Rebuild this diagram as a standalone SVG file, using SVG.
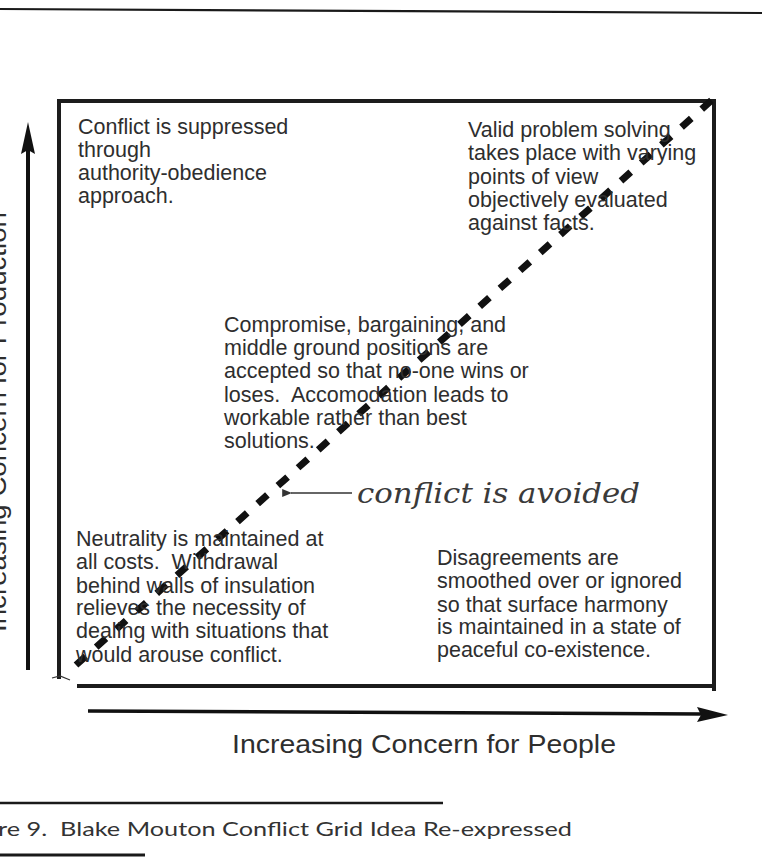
<svg xmlns="http://www.w3.org/2000/svg" width="762" height="857" viewBox="0 0 762 857">
  <style>
    .body { font-family: "Liberation Sans", Arial, sans-serif; font-size: 21.5px; fill: #2e2e2e; }
    .axis { font-family: "Liberation Sans", Arial, sans-serif; font-size: 25px; fill: #2e2e2e; }
    .note { font-family: "DejaVu Serif", serif; font-style: italic; font-size: 27px; fill: #3a3a3a; }
    .cap { font-family: Lato, "Open Sans", "Liberation Sans", sans-serif; font-size: 20px; fill: #333; }
    .frame { fill: none; stroke: #1c1c1c; stroke-width: 4; stroke-linecap: square; }
    .rule { fill: none; stroke: #1a1a1a; }
  </style>
  <defs>
    <marker id="smallHead" viewBox="0 0 10 10" refX="1" refY="5" markerWidth="7" markerHeight="7" orient="auto-start-reverse">
      <path d="M0,5 L10,1 L10,9 Z" fill="#333"/>
    </marker>
  </defs>
  <rect width="762" height="857" fill="#ffffff"/>

  <!-- page rules -->
  <line class="rule" x1="0" y1="9" x2="762" y2="13" stroke-width="2.2"/>
  <line class="rule" x1="0" y1="803" x2="443" y2="803" stroke-width="2.6"/>
  <line class="rule" x1="0" y1="855" x2="145" y2="855" stroke-width="3"/>

  <!-- frame -->
  <g id="frame">
    <path class="frame" d="M59,101 H714"/>
    <path class="frame" d="M714,101 V689"/>
    <path class="frame" d="M79,686 H714"/>
    <path class="frame" d="M59,101 V677"/>
    <path d="M52,678 L60,676 L70,680" fill="none" stroke="#333" stroke-width="1.2"/>
  </g>

  <!-- connectors -->
  <g id="connectors">
    <line x1="76" y1="665" x2="712" y2="100" stroke="#111" stroke-width="7" stroke-dasharray="13 14"/>
    <line x1="352" y1="493" x2="291" y2="493" stroke="#333" stroke-width="1.4" marker-end="url(#smallHead)"/>
    <!-- vertical axis -->
    <line x1="28" y1="670" x2="28" y2="150" stroke="#111" stroke-width="4"/>
    <polygon points="28,122 21,154 28,150 35,154" fill="#111"/>
    <!-- horizontal axis -->
    <line x1="88" y1="711" x2="703" y2="714" stroke="#111" stroke-width="3.5"/>
    <polygon points="697,707 728,715 697,722 701,715" fill="#111"/>
  </g>

  <!-- axis labels -->
  <g id="y-axis-label">
    <text class="axis" transform="translate(6,632) rotate(-90)" x="0" y="0" textLength="420" lengthAdjust="spacingAndGlyphs">Increasing Concern for Production</text>
  </g>
  <g id="x-axis-label">
    <text class="axis" x="232" y="753" textLength="384" lengthAdjust="spacingAndGlyphs">Increasing Concern for People</text>
  </g>

  <!-- quadrant texts -->
  <g id="top-left">
    <text class="body" x="78" y="134">Conflict is suppressed</text>
    <text class="body" x="78" y="157">through</text>
    <text class="body" x="78" y="180">authority-obedience</text>
    <text class="body" x="78" y="203">approach.</text>
  </g>
  <g id="top-right">
    <text class="body" x="468" y="137">Valid problem solving</text>
    <text class="body" x="468" y="160">takes place with varying</text>
    <text class="body" x="468" y="184">points of view</text>
    <text class="body" x="468" y="207">objectively evaluated</text>
    <text class="body" x="468" y="230">against facts.</text>
  </g>
  <g id="middle">
    <text class="body" x="224" y="332">Compromise, bargaining, and</text>
    <text class="body" x="224" y="355">middle ground positions are</text>
    <text class="body" x="224" y="378">accepted so that no-one wins or</text>
    <text class="body" x="224" y="402" xml:space="preserve">loses.  Accomodation leads to</text>
    <text class="body" x="224" y="425">workable rather than best</text>
    <text class="body" x="224" y="448">solutions.</text>
  </g>
  <g id="bottom-left">
    <text class="body" x="76" y="546">Neutrality is maintained at</text>
    <text class="body" x="76" y="569" xml:space="preserve">all costs.  Withdrawal</text>
    <text class="body" x="76" y="593">behind walls of insulation</text>
    <text class="body" x="76" y="615">relieves the necessity of</text>
    <text class="body" x="76" y="638">dealing with situations that</text>
    <text class="body" x="76" y="662">would arouse conflict.</text>
  </g>
  <g id="bottom-right">
    <text class="body" x="437" y="565">Disagreements are</text>
    <text class="body" x="437" y="588">smoothed over or ignored</text>
    <text class="body" x="437" y="612">so that surface harmony</text>
    <text class="body" x="437" y="634">is maintained in a state of</text>
    <text class="body" x="437" y="657">peaceful co-existence.</text>
  </g>
  <g id="avoided-note">
    <text class="note" x="357" y="503" textLength="283" lengthAdjust="spacingAndGlyphs">conflict is avoided</text>
  </g>

  <!-- caption -->
  <g id="caption">
    <text class="cap" x="-2" y="836" textLength="574" lengthAdjust="spacingAndGlyphs" xml:space="preserve">re 9.  Blake Mouton Conflict Grid Idea Re-expressed</text>
  </g>
</svg>
